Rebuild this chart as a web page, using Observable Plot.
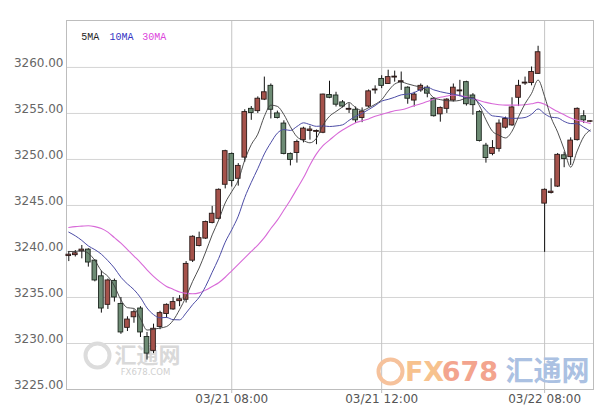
<!DOCTYPE html>
<html><head><meta charset="utf-8">
<script src="https://cdn.jsdelivr.net/npm/d3@7"></script>
<script src="https://cdn.jsdelivr.net/npm/@observablehq/plot@0.6"></script>
<style>body{margin:0;background:#fff}#chart{width:603px;height:411px}</style>
</head><body><div id="chart"></div>
<script>
const opens = [3239.5,3239.6,3240.0,3240.2,3239.0,3237.3,3234.2,3236.8,3234.3,3231.7,
3232.85,3233.8,3230.7,3229.2,3231.8,3233.2,3233.7,3234.6,3234.75,3239.0,
3240.6,3241.4,3243.1,3243.55,3247.25,3250.6,3247.9,3250.2,3255.5,3255.25,
3256.5,3258.0,3255.0,3253.9,3250.6,3250.7,3252.1,3253.1,3253.0,3252.9,
3257.0,3256.95,3256.2,3255.4,3255.4,3254.5,3255.75,3257.5,3258.75,3258.2,
3258.9,3258.4,3257.8,3256.4,3257.5,3257.8,3256.6,3254.9,3255.5,3256.4,
3257.4,3258.4,3256.95,3255.15,3251.5,3250.6,3251.15,3253.45,3253.7,3256.7,
3258.25,3258.3,3259.3,3245.2,3246.35,3247.05,3250.45,3250.25,3252.1,3254.7,3254.1];
const highs = [3240.0,3240.1,3240.65,3240.3,3239.1,3237.85,3237.0,3237.0,3235.0,3232.9,
3233.65,3234.0,3231.2,3232.1,3233.5,3234.3,3235.0,3235.2,3238.9,3241.7,
3242.1,3243.3,3244.9,3246.8,3251.0,3250.7,3249.55,3255.4,3255.75,3256.8,
3258.95,3258.2,3255.25,3254.2,3250.7,3252.1,3253.5,3253.6,3253.2,3257.1,
3258.5,3257.3,3256.4,3256.05,3255.7,3255.6,3257.55,3258.0,3259.1,3259.7,
3259.6,3259.5,3257.9,3257.3,3258.2,3258.0,3256.7,3255.7,3256.6,3258.2,
3258.6,3258.5,3257.15,3255.3,3251.75,3252.05,3254.3,3254.6,3256.7,3258.6,
3258.95,3260.05,3262.3,3246.8,3247.9,3250.65,3250.8,3252.35,3255.6,3255.3,3254.2];
const lows = [3238.9,3239.4,3239.2,3238.3,3236.7,3233.3,3233.7,3234.5,3231.0,3231.3,
3232.2,3230.65,3228.2,3228.9,3231.5,3232.75,3233.6,3234.0,3234.4,3238.8,
3240.5,3241.3,3243.0,3243.45,3246.8,3247.0,3247.1,3249.7,3254.25,3255.0,
3256.4,3254.4,3254.4,3250.5,3249.3,3249.6,3251.8,3252.1,3251.6,3252.8,
3256.6,3255.7,3255.6,3255.0,3253.9,3254.0,3255.6,3257.1,3257.7,3258.15,
3258.4,3257.5,3256.0,3255.7,3257.3,3256.7,3254.6,3254.05,3255.0,3256.25,
3256.8,3255.8,3254.8,3251.9,3249.6,3250.4,3250.8,3253.3,3253.6,3255.75,
3258.05,3258.0,3259.25,3239.9,3246.25,3246.95,3249.1,3249.35,3252.0,3253.9,3254.0];
const closes = [3239.65,3239.8,3240.2,3238.8,3236.85,3233.8,3236.85,3235.0,3231.2,3232.6,
3233.4,3231.2,3228.9,3231.6,3233.3,3234.2,3234.5,3234.8,3238.65,3241.6,
3241.45,3243.2,3244.1,3246.7,3250.9,3247.65,3249.3,3255.15,3255.05,3256.6,
3257.3,3255.4,3254.5,3250.6,3249.95,3251.9,3253.35,3253.25,3253.1,3257.05,
3256.7,3255.95,3255.75,3255.5,3254.25,3255.2,3257.4,3257.6,3258.0,3258.95,
3259.0,3258.5,3256.6,3257.05,3258.0,3257.15,3254.7,3255.6,3256.5,3257.8,
3257.5,3256.0,3255.9,3252.0,3250.15,3251.25,3253.9,3254.4,3255.65,3258.0,
3258.35,3259.5,3261.65,3246.7,3246.5,3250.5,3250.05,3252.05,3255.5,3254.25,3254.15];
const ma5 = [3240.0,3240.0,3240.1,3239.8,3239.04,3237.89,3237.3,3236.26,3234.74,3233.89,
3233.81,3232.68,3231.46,3231.54,3231.68,3231.84,3232.5,3233.68,3235.09,3236.75,
3238.2,3239.94,3241.8,3243.41,3245.27,3246.51,3247.73,3249.94,3251.61,3252.75,
3254.68,3255.9,3255.77,3254.88,3253.55,3252.47,3252.06,3251.81,3252.31,3253.73,
3254.69,3255.21,3255.71,3256.19,3255.63,3255.33,3255.62,3255.99,3256.49,3257.43,
3258.19,3258.41,3258.21,3258.02,3257.83,3257.46,3256.7,3256.5,3256.39,3256.35,
3256.42,3256.68,3256.74,3255.84,3254.31,3253.06,3252.64,3252.34,3253.07,3254.64,
3256.06,3257.18,3258.63,3256.84,3254.54,3252.97,3251.08,3249.16,3250.92,3252.47,3253.19];
const ma10 = [3242.1,3241.7,3241.2,3240.6,3240.2,3239.7,3239.0,3238.2,3237.2,3236.47,
3235.85,3234.99,3233.86,3233.14,3232.79,3232.83,3232.59,3232.57,3233.32,3234.22,
3235.02,3236.22,3237.74,3239.25,3241.01,3242.36,3243.84,3245.87,3247.51,3249.01,
3250.6,3251.82,3252.86,3253.25,3253.15,3253.58,3253.98,3253.79,3253.6,3253.64,
3253.58,3253.64,3253.76,3254.25,3254.68,3255.01,3255.42,3255.85,3256.34,3256.53,
3256.76,3257.02,3257.1,3257.26,3257.63,3257.83,3257.56,3257.36,3257.21,3257.09,
3256.94,3256.69,3256.62,3256.12,3255.33,3254.74,3254.66,3254.54,3254.46,3254.48,
3254.56,3254.91,3255.49,3254.96,3254.59,3254.52,3254.13,3253.9,3253.88,3253.51,3253.08];
const ma30 = [3242.6,3242.7,3242.75,3242.8,3242.7,3242.5,3242.1,3241.5,3240.9,3240.2,
3239.5,3238.8,3238.0,3237.3,3236.7,3236.2,3235.9,3235.6,3235.45,3235.4,
3235.5,3235.8,3236.2,3236.6,3237.2,3237.9,3238.6,3239.3,3240.0,3240.7,
3241.5,3242.5,3243.4,3244.5,3245.6,3246.8,3248.0,3249.4,3250.6,3251.5,
3252.1,3252.7,3253.2,3253.6,3254.0,3254.2,3254.4,3254.7,3254.9,3255.1,
3255.3,3255.4,3255.6,3255.85,3256.05,3256.3,3256.55,3256.75,3256.9,3257.0,
3256.95,3256.8,3256.6,3256.4,3256.2,3256.05,3255.95,3255.9,3255.9,3255.9,
3255.95,3256.05,3256.2,3256.0,3255.6,3255.2,3254.85,3254.5,3254.25,3254.1,3253.9];
const yTicks = [3225,3230,3235,3240,3245,3250,3255,3260];
const xTickIdx = [25,48,73];
const xTickLabels = ["03/21 08:00","03/21 12:00","03/22 08:00"];
const legendNames = ["5MA","10MA","30MA"];
const legendColors = ["#1e1e1e","#3434c4","#dc44dc"];
const lineColors = ["#3c3c3c","#4c4ca6","#d86ad8"];
const upColor = "#a5524b", downColor = "#6d8b74";

const candles = opens.map((o,i)=>({i, open:o, high:highs[i], low:lows[i], close:closes[i], up: closes[i] >= o}));
const maRows = [ma5, ma10, ma30].map(arr => arr.map((v,i)=>({i, v})));
const hw = 0.36;
const font = "DejaVu Sans, sans-serif";
const wm = {textAnchor: "middle", lineAnchor: "middle"};

const chart = Plot.plot({
  width: 603, height: 411,
  marginLeft: 66, marginRight: 10, marginTop: 20, marginBottom: 22,
  style: {fontFamily: font, fontSize: "12px", background: "#fff", overflow: "visible"},
  x: {type: "linear", domain: [-0.35, 80.5], axis: null, label: null},
  y: {domain: [3225, 3265.1], axis: null, label: null},
  marks: [
    Plot.gridY(yTicks.slice(1), {stroke: "#d4d4d4", strokeOpacity: 1}),
    Plot.gridX(xTickIdx, {stroke: "#c4c4c4", strokeOpacity: 1}),
    // watermarks
    Plot.dot([0], {frameAnchor: "bottom-left", dx: 31, dy: -34, r: 12, fill: "none", stroke: "#dcdcdc", strokeWidth: 4}),
    Plot.text(["汇通网"], {...wm, frameAnchor: "bottom-left", dx: 81, dy: -34, fontSize: 22, fontWeight: "bold", fill: "#d9d9d9", fontFamily: "Noto Sans CJK SC"}),
    Plot.text(["FX678.COM"], {...wm, frameAnchor: "bottom-left", dx: 79, dy: -17, fontSize: 8.5, fill: "#cfcfcf", fontFamily: font}),
    Plot.dot([0], {frameAnchor: "bottom-right", dx: -203, dy: -18, r: 12, fill: "none", stroke: "#f6c29c", strokeWidth: 4}),
    Plot.text(["FX"], {...wm, frameAnchor: "bottom-right", dx: -169, dy: -17, fontSize: 27, fontWeight: "bold", fill: "#f7c28e", fontFamily: font}),
    Plot.text(["678"], {...wm, frameAnchor: "bottom-right", dx: -123.6, dy: -17, fontSize: 27, fontWeight: "bold", fill: "#f3a48e", fontFamily: font}),
    Plot.text(["汇通网"], {...wm, frameAnchor: "bottom-right", dx: -46, dy: -17, fontSize: 28, fontWeight: "bold", fill: "#abc1e2", fontFamily: "Noto Sans CJK SC"}),
    Plot.frame({stroke: "#bdbdbd"}),
    // candles
    Plot.ruleX(candles, {x: "i", y1: "low", y2: "high", stroke: "#111", strokeWidth: 1}),
    Plot.rect(candles.filter(d => d.up), {x1: d => d.i - hw, x2: d => d.i + hw, y1: "open", y2: "close", fill: upColor, stroke: "#2a1a18", strokeWidth: 0.9}),
    Plot.rect(candles.filter(d => !d.up), {x1: d => d.i - hw, x2: d => d.i + hw, y1: "open", y2: "close", fill: downColor, stroke: "#1c261e", strokeWidth: 0.9}),
    // moving averages
    Plot.line(maRows[2], {x: "i", y: "v", stroke: lineColors[2], strokeWidth: 1.1, curve: "monotone-x"}),
    Plot.line(maRows[1], {x: "i", y: "v", stroke: lineColors[1], strokeWidth: 1, curve: "monotone-x"}),
    Plot.line(maRows[0], {x: "i", y: "v", stroke: lineColors[0], strokeWidth: 0.9, curve: "monotone-x"}),
    // axes
    Plot.axisY(yTicks, {tickSize: 0, tickPadding: 3, tickFormat: d => d.toFixed(2), dy: -4, fill: "#666", fontSize: 12, label: null}),
    Plot.axisX(xTickIdx, {tickSize: 4, tickPadding: 1, stroke: "#bdbdbd", fill: "#555", fontSize: 12, label: null, tickFormat: d => xTickLabels[xTickIdx.indexOf(d)]}),
    // legend
    ...legendNames.map((name, k) => Plot.text([name], {frameAnchor: "top-left", lineAnchor: "middle", textAnchor: "start", dx: [14.7, 43, 75.7][k], dy: 16, fill: legendColors[k], fontSize: 10, fontFamily: "Liberation Mono, monospace"}))
  ]
});
document.getElementById("chart").append(chart);
</script></body></html>
